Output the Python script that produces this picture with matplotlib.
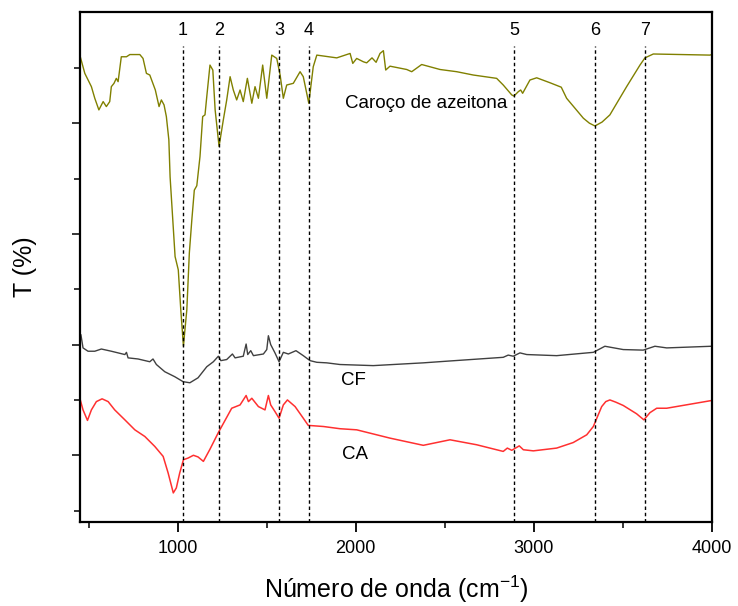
import matplotlib
matplotlib.use("Agg")
import matplotlib.pyplot as plt

plt.rcParams['font.family'] = ['Liberation Sans', 'DejaVu Sans']

# Caroço de azeitona (olive stone) spectrum
wn_olive = [451, 479, 516, 535, 558, 582, 600, 619, 628, 643, 656, 666, 684, 713, 732, 788,
            806, 825, 844, 875, 896, 909, 924, 937, 951, 958, 986, 1004, 1018, 1033, 1038,
            1052, 1066, 1080, 1094, 1108, 1126, 1141, 1154, 1164, 1182, 1198, 1211, 1233,
            1257, 1276, 1295, 1313, 1332, 1351, 1369, 1392, 1417, 1435, 1454, 1478, 1501,
            1529, 1557, 1576, 1594, 1613, 1650, 1688, 1706, 1737, 1762, 1782, 1894, 1969,
            1984, 2006, 2043, 2062, 2092, 2115, 2137, 2156, 2169, 2193, 2287, 2315, 2371,
            2474, 2568, 2661, 2792, 2829, 2877, 2889, 2914, 2927, 2938, 2979, 3017, 3092,
            3155, 3185, 3279, 3313, 3344, 3384, 3428, 3522, 3597, 3625, 3672, 3990, 4000]
t_olive = [82.3, 79.0, 76.6, 74.5, 72.4, 73.9, 73.0, 73.9, 76.6, 77.2, 78.1, 77.5, 82.0, 82.0,
           82.4, 82.4, 81.7, 79.0, 78.7, 76.0, 73.0, 74.2, 73.3, 71.2, 67.0, 60.3, 45.9, 43.5,
           36.3, 29.7, 31.5, 36.3, 46.5, 52.5, 57.9, 58.7, 64.0, 71.2, 71.5, 74.8, 80.5, 79.6,
           72.4, 65.8, 70.6, 74.2, 78.4, 76.0, 74.2, 76.0, 73.9, 78.1, 73.6, 76.6, 74.5, 80.5,
           74.5, 82.3, 81.7, 78.7, 74.5, 76.9, 77.2, 79.3, 78.4, 73.6, 80.2, 82.3, 81.8, 82.6,
           80.8, 81.7, 81.1, 80.9, 81.8, 81.0, 82.6, 83.1, 79.6, 80.3, 79.7, 79.3, 80.6, 79.7,
           79.3, 78.7, 78.1, 76.9, 75.1, 74.9, 75.7, 76.0, 75.4, 77.8, 78.2, 77.3,
           76.5, 74.5, 70.9, 70.0, 69.5, 70.2, 71.5, 76.6, 80.5, 81.8, 82.5, 82.3, 82.4]

# CF spectrum
wn_cf = [451, 457, 469, 497, 535, 572, 628, 704, 713, 722, 778, 844, 862, 881, 928, 984, 1031,
         1069, 1115, 1164, 1201, 1229, 1243, 1276, 1308, 1323, 1369, 1385, 1394, 1411, 1426,
         1482, 1501, 1510, 1523, 1547, 1570, 1594, 1622, 1665, 1706, 1744, 1782, 1838, 1912,
         2099, 2380, 2512, 2829, 2857, 2885, 2923, 2961, 3129, 3335, 3400, 3503, 3615, 3681,
         3747, 4000]
t_cf = [30.9, 31.8, 29.4, 28.8, 28.8, 29.2, 28.8, 28.2, 28.6, 27.6, 27.4, 26.9, 27.4, 26.4,
        25.1, 24.2, 23.3, 23.1, 24.0, 26.0, 26.9, 27.9, 27.1, 27.3, 28.3, 27.6, 27.9, 30.1,
        28.2, 28.9, 28.0, 28.3, 29.1, 31.6, 30.0, 28.5, 26.9, 28.6, 28.3, 28.9, 28.0, 27.1,
        26.8, 26.7, 26.4, 26.2, 26.7, 27.0, 27.7, 28.1, 27.9, 28.5, 28.2, 28.0, 28.6, 29.7,
        29.1, 29.0, 29.7, 29.4, 29.7]

# CA spectrum
wn_ca = [451, 469, 494, 516, 544, 576, 610, 647, 704, 760, 816, 872, 919, 947, 976, 993, 1012,
         1033, 1059, 1089, 1115, 1145, 1182, 1229, 1304, 1351, 1385, 1398, 1417, 1454, 1491,
         1510, 1523, 1547, 1570, 1594, 1617, 1660, 1706, 1734, 1819, 1912, 2006, 2193, 2380,
         2530, 2680, 2829, 2852, 2877, 2919, 2942, 2998, 3129, 3222, 3298, 3335, 3382, 3405,
         3428, 3461, 3503, 3578, 3619, 3653, 3691, 3747, 4000]
t_ca = [20.3, 18.2, 16.3, 18.2, 19.7, 20.2, 19.7, 18.2, 16.4, 14.6, 13.4, 11.6, 9.8, 6.8, 3.2,
        4.1, 6.8, 9.2, 9.5, 10.0, 9.7, 8.9, 11.1, 14.1, 18.5, 19.1, 20.8, 19.7, 20.3, 18.8,
        18.2, 20.8, 19.1, 17.9, 16.7, 19.1, 20.0, 18.8, 16.7, 15.4, 15.2, 14.8, 14.6, 13.1,
        11.8, 12.8, 11.9, 10.7, 11.3, 10.9, 11.7, 11.0, 10.8, 11.3, 12.3, 13.7, 15.2, 18.8,
        19.7, 20.0, 19.6, 19.0, 17.5, 16.4, 17.7, 18.5, 18.5, 19.9]

# band markers
band_pos = [1030, 1235, 1572, 1737, 2889, 3343, 3623]
band_labels = ['1', '2', '3', '4', '5', '6', '7']

fig = plt.figure(figsize=(7.38, 6.06), dpi=100)
ax = fig.add_axes([0.1084, 0.1391, 0.856, 0.8403])

ax.plot(wn_olive, t_olive, color='#808000', lw=1.0)
ax.plot(wn_cf, t_cf, color='#404040', lw=1.0)
ax.plot(wn_ca, t_ca, color='#ff3030', lw=1.1)

for p, lab in zip(band_pos, band_labels):
    ax.plot([p, p], [-2, 83.9], color='black', lw=1.0, linestyle=(0, (2.5, 2)))
    ax.text(p, 86.8, lab, ha='center', va='center', fontsize=13)

ax.text(1940, 73.6, 'Caroço de azeitona', ha='left', va='center', fontsize=13.5)
ax.text(1920, 23.6, 'CF', ha='left', va='center', fontsize=13.5)
ax.text(1925, 10.2, 'CA', ha='left', va='center', fontsize=13.5)

ax.set_xlim(452, 4000)
ax.set_ylim(-2, 90)

ax.set_xticks([1000, 2000, 3000, 4000])
ax.set_xticks([500, 1500, 2500, 3500], minor=True)
ax.set_yticks([10, 30, 50, 70])
ax.set_yticks([0, 20, 40, 60, 80], minor=True)
ax.set_yticklabels([])

ax.tick_params(axis='x', which='major', direction='out', length=7, width=1.3, labelsize=13, pad=6)
ax.tick_params(axis='x', which='minor', direction='out', length=4.5, width=1.1)
ax.tick_params(axis='y', which='major', direction='out', length=5.5, width=1.1)
ax.tick_params(axis='y', which='minor', direction='out', length=4, width=1.1)

for s in ax.spines.values():
    s.set_linewidth(1.6)

ax.set_xlabel('Número de onda (cm$^{\\mathregular{-1}}$)', fontsize=18, labelpad=12)
ax.set_ylabel('T (%)', fontsize=18, labelpad=22)

fig.savefig('out.png', dpi=100)
